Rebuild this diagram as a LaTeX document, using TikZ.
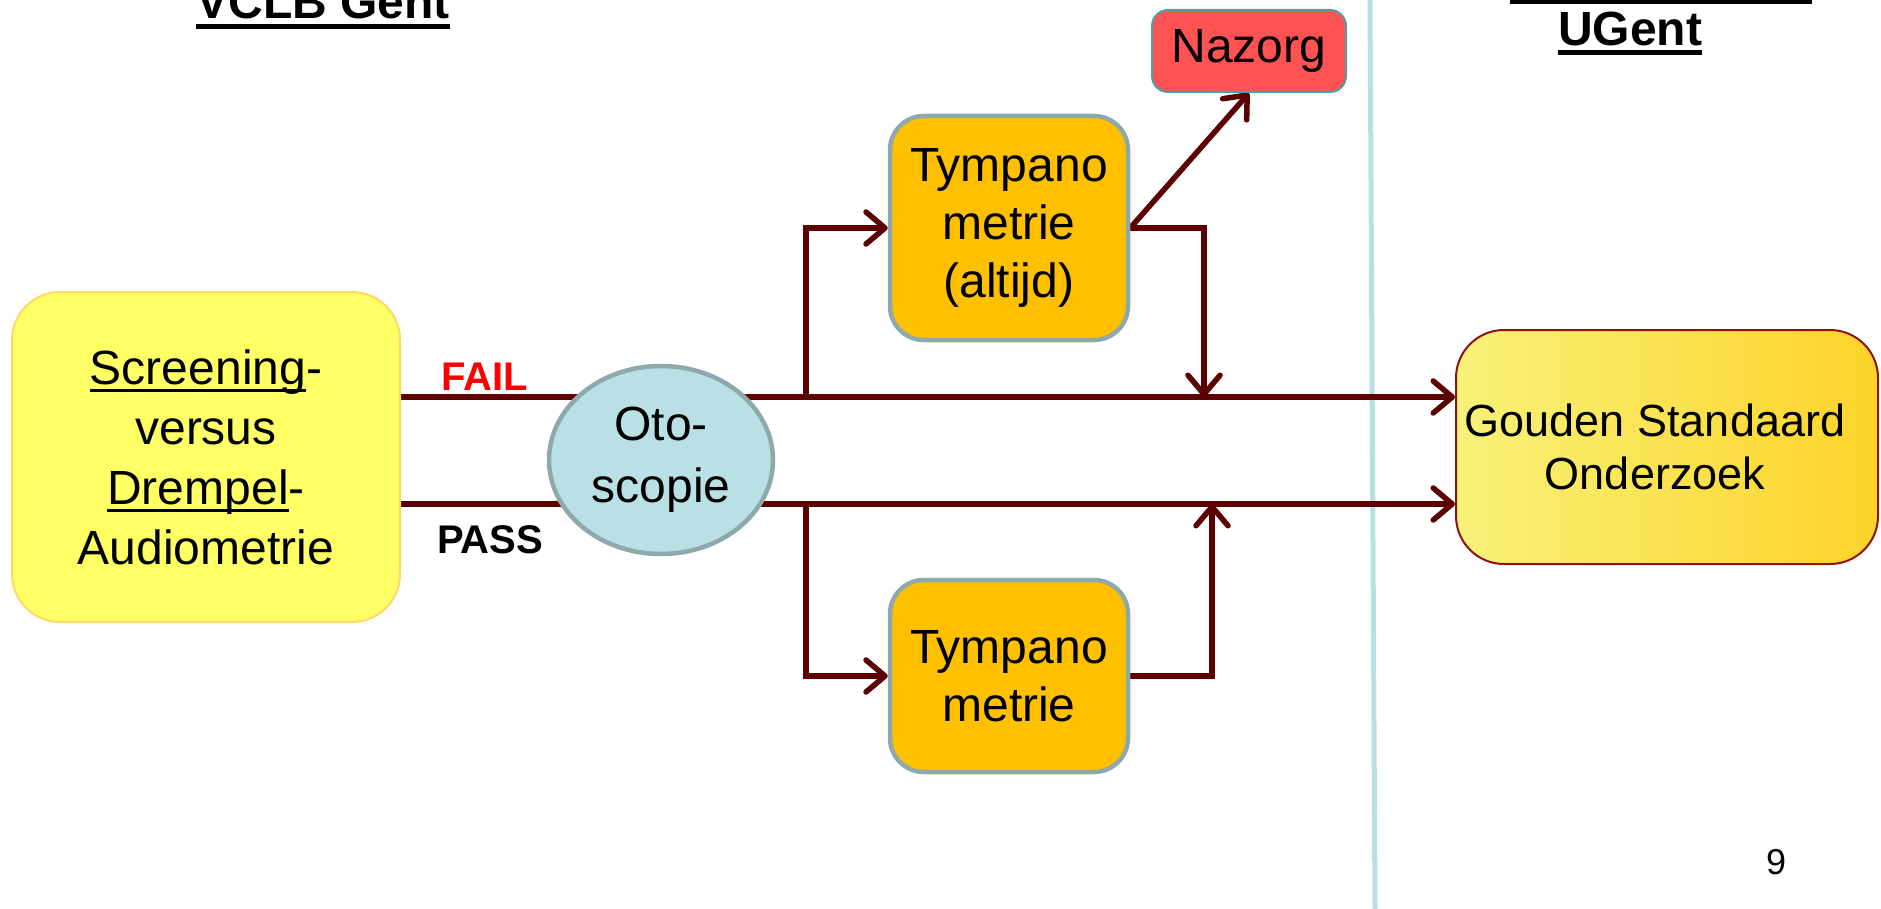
\documentclass[tikz,border=0pt]{standalone}
\usepackage{fontspec}
\setmainfont{Liberation Sans}
\usetikzlibrary{arrows.meta,backgrounds,shapes.geometric}

\newsavebox{\ulbox}
\newcommand{\ulword}[3]{\leavevmode\sbox{\ulbox}{#3}\rlap{\rule[-#1]{\wd\ulbox}{#2}}\usebox{\ulbox}}

\definecolor{flowline}{HTML}{5C0000}
\definecolor{screenfill}{HTML}{FFFF66}
\definecolor{screenedge}{HTML}{FFD966}
\definecolor{tympfill}{HTML}{FFC000}
\definecolor{greyedge}{HTML}{8EA9AB}
\definecolor{otofill}{HTML}{B9E0E4}
\definecolor{nazorgfill}{HTML}{FF5252}
\definecolor{nazorgedge}{HTML}{4E9EA6}
\definecolor{goldleft}{HTML}{F8F27A}
\definecolor{goldright}{HTML}{FFC400}
\definecolor{goldedge}{HTML}{8B1515}
\definecolor{dividerblue}{HTML}{B8E0E4}
\pgfdeclarehorizontalshading{goldshade}{100bp}{color(0bp)=(goldleft); color(25bp)=(goldleft); color(100bp)=(goldright)}

\begin{document}
\begin{tikzpicture}[
    x=1pt, y=-1pt,
    every node/.style={align=center, inner sep=0pt, font=\fontsize{48}{58}\selectfont},
    tymp/.style={rectangle, rounded corners=34pt, fill=tympfill, draw=greyedge, line width=4.5pt, minimum width=238pt},
    flow/.style={draw=flowline, line width=5.5pt},
    arr/.style={-{Straight Barb[length=19pt,width=32pt,round]}},
    head/.style={font=\fontsize{48}{58}\selectfont\bfseries, anchor=base}
  ]
  \useasboundingbox (0,0) rectangle (1881,909);
  \node (vclb) [head] at (323,19) {\ulword{10pt}{5pt}{VCLB Gent}};
  \node (ugent) [head] at (1630,46) {\ulword{9pt}{5pt}{UGent}};
  \fill (1510,0) rectangle (1812,4);
  \node (scr) [rectangle, rounded corners=48pt, fill=screenfill, draw=screenedge, line width=2pt, minimum width=388pt, minimum height=330pt, font=\fontsize{48}{60}\selectfont] at (206,457) {\ulword{8pt}{3pt}{Screening}-\\versus\\\ulword{8pt}{3pt}{Drempel}-\\Audiometrie};
  \node (oto) [ellipse, fill=otofill, draw=greyedge, line width=4.5pt, minimum width=224pt, minimum height=188pt, font=\fontsize{48}{62}\selectfont] at (661,460) {Oto-\\scopie};
  \node (tymp1) [tymp, minimum height=224pt] at (1009,228) {Tympano\\metrie\\(altijd)};
  \node (tymp2) [tymp, minimum height=192pt] at (1009,676) {Tympano\\metrie};
  \node (nazorg) [rectangle, rounded corners=16pt, fill=nazorgfill, draw=nazorgedge, line width=2pt, minimum width=194pt, minimum height=82pt] at (1249,51) {Nazorg};
  \node (gold) [rectangle, rounded corners=48pt, shade, shading=goldshade, draw=goldedge, line width=2pt, minimum width=422pt, minimum height=234pt, font=\fontsize{45}{53}\selectfont] at (1667,447) {Gouden Standaard\hspace*{24pt}\\Onderzoek\hspace*{24pt}};
  \node (fail) [font=\fontsize{40}{48}\selectfont\bfseries, text=red] at (485,377) {FAIL};
  \node (pass) [font=\fontsize{40}{48}\selectfont\bfseries] at (490,540) {PASS};
  \node (page) [font=\fontsize{36}{44}\selectfont] at (1776,862) {9};
  \begin{scope}[on background layer]
    \draw[draw=dividerblue, line width=5pt] (1370,0) -- (1375,909);
    \coordinate (failsplit) at (806,397);
    \coordinate (passsplit) at (806,504);
    \coordinate (failjoin) at (1204,397);
    \coordinate (passjoin) at (1212,504);
    \draw[flow,arr] (scr.east |- failsplit) -- (gold.west |- failsplit);
    \draw[flow,arr] (scr.east |- passsplit) -- (gold.west |- passsplit);
    \draw[flow,arr] (failsplit) |- (tymp1.west);
    \draw[flow,arr] (passsplit) |- (tymp2.west);
    \draw[flow,arr] (tymp1.east) -| (failjoin);
    \draw[flow,arr] (tymp2.east) -| (passjoin);
    \draw[flow,arr] (tymp1.east) -- (nazorg.south);
  \end{scope}
\end{tikzpicture}
\end{document}
